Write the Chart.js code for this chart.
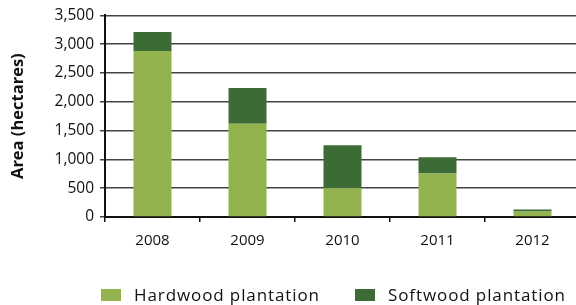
<!DOCTYPE html>
<html>
<head>
<meta charset="utf-8">
<script src="https://cdn.jsdelivr.net/npm/chart.js@4/dist/chart.umd.min.js"></script>
<style>
  html, body { margin: 0; padding: 0; background: #fff; }
  #wrap { position: relative; width: 576px; height: 305px; overflow: hidden; }
  #chart { position: absolute; left: 0; top: 0; }
  #legend { position: absolute; top: 283px; left: 0; width: 576px; height: 20px; font-family: "Open Sans", sans-serif; font-size: 17px; letter-spacing: 0.9px; color: #111; }
  .item { position: absolute; top: 0; display: flex; align-items: center; white-space: nowrap; }
  .swatch { width: 20px; height: 12px; margin-right: 13px; }
</style>
</head>
<body>
<div id="wrap">
  <canvas id="chart" width="580" height="305" style="width:580px;height:305px"></canvas>
  <div id="legend"></div>
</div>
<script>
const years = ['2008', '2009', '2010', '2011', '2012'];
const hardwood = [2880, 1620, 500, 755, 95];
const softwood = [330, 620, 745, 280, 35];
const seriesNames = ['Hardwood plantation', 'Softwood plantation'];
const seriesColors = ['#93b34e', '#3d6b35'];
const yTicks = [0, 500, 1000, 1500, 2000, 2500, 3000, 3500];

const font = '"Open Sans", sans-serif';

const chart = new Chart(document.getElementById('chart'), {
  type: 'bar',
  data: {
    labels: years,
    datasets: [
      { label: seriesNames[0], data: hardwood, backgroundColor: seriesColors[0], barPercentage: 0.4, categoryPercentage: 1 },
      { label: seriesNames[1], data: softwood, backgroundColor: seriesColors[1], barPercentage: 0.4, categoryPercentage: 1 }
    ]
  },
  options: {
    responsive: false,
    animation: false,
    layout: { padding: { top: 10, right: 0, bottom: 48, left: 0 } },
    plugins: { legend: { display: false }, tooltip: { enabled: false } },
    scales: {
      x: {
        stacked: true,
        afterFit: s => { s.height = 40; },
        border: { color: '#111', width: 2 },
        grid: { drawOnChartArea: false, color: '#111', tickLength: 5, lineWidth: 1.5 },
        ticks: { color: '#111', font: { family: font, size: 15 }, padding: 10 }
      },
      y: {
        stacked: true,
        min: 0,
        max: 3500,
        afterBuildTicks: s => { s.ticks = yTicks.map(v => ({ value: v })); },
        afterFit: s => { s.width = 105; },
        border: { color: '#111', width: 2 },
        grid: { color: '#444', lineWidth: 1.5, tickLength: 5 },
        ticks: {
          color: '#111',
          font: { family: font, size: 15.5 },
          padding: 6,
          callback: v => v.toLocaleString('en-US')
        },
        title: {
          display: true,
          text: 'Area (hectares)',
          color: '#111',
          font: { family: font, size: 16.5, weight: 'bold' },
          padding: { top: 8, bottom: 0 }
        }
      }
    }
  }
});

// legend
const legend = document.getElementById('legend');
const legendX = [101, 355];
seriesNames.forEach((name, i) => {
  legend.innerHTML += `
    <div class="item" style="left:${legendX[i]}px">
      <div class="swatch" style="background:${seriesColors[i]}"></div>
      <span>${name}</span>
    </div>`;
});
</script>
</body>
</html>
